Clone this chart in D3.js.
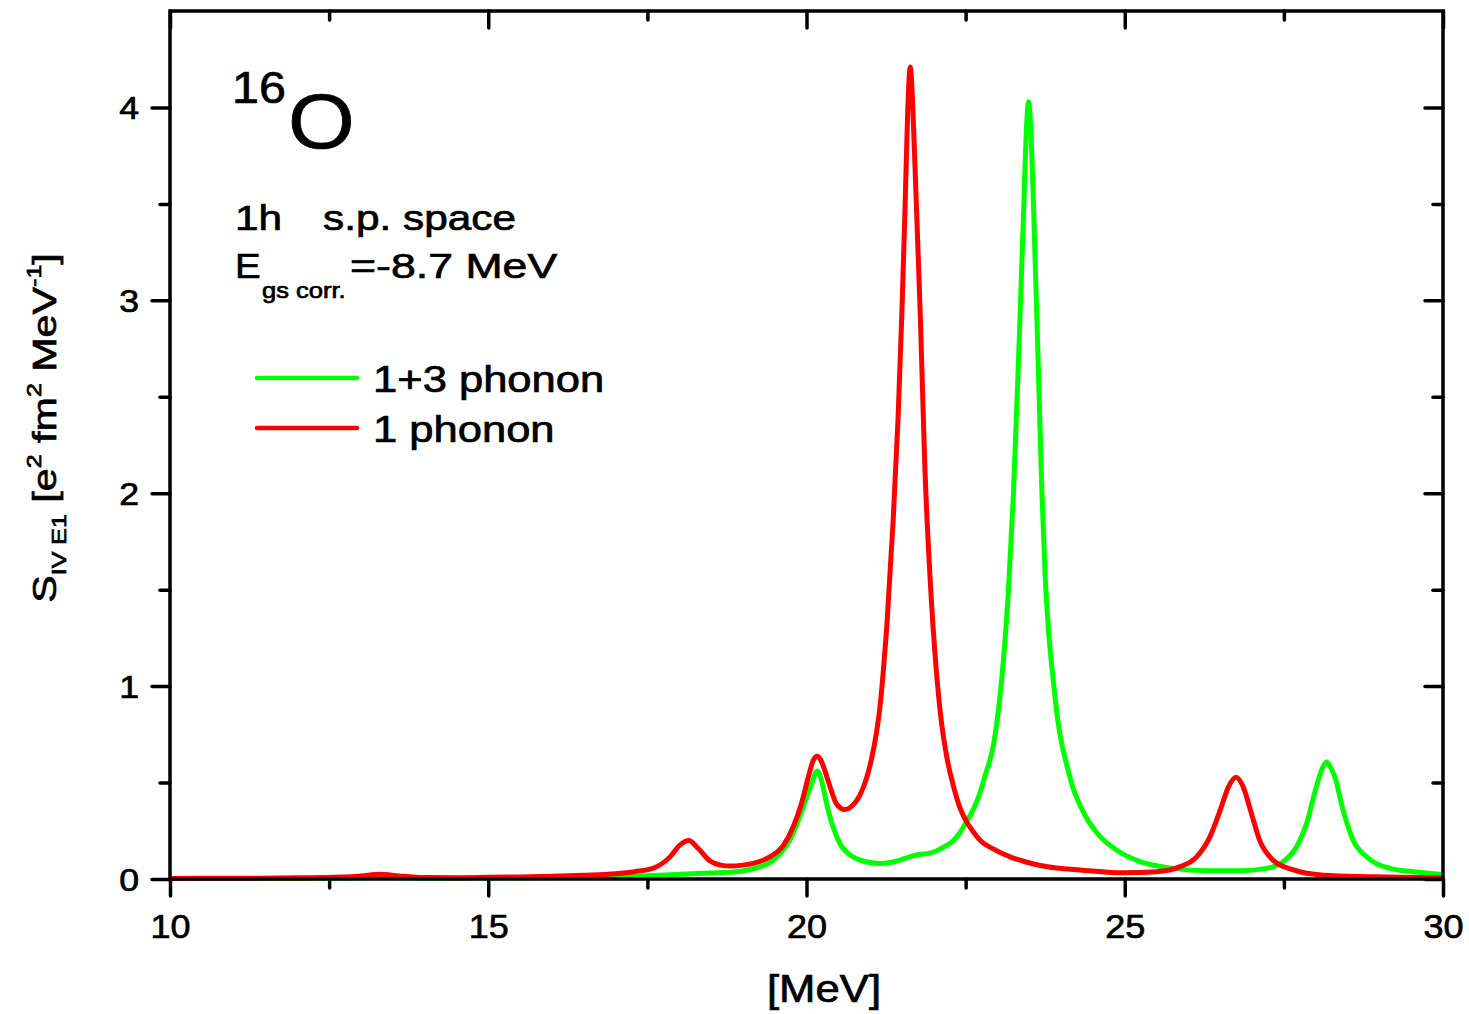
<!DOCTYPE html>
<html>
<head>
<meta charset="utf-8">
<script src="https://cdn.jsdelivr.net/npm/d3@7"></script>
<style>
  body { margin: 0; background: #fff; }
  text { font-family: "Liberation Sans", Arial, sans-serif; fill: #000; stroke: #000; stroke-width: 0.7px; }
</style>
</head>
<body>
<svg id="chart"></svg>
<script>
// Energies [MeV] and strengths
const energyOnePhonon = [10.0, 11.0, 12.0, 12.7, 13.0, 13.3, 13.6, 14.0, 14.5, 15.0,
  15.5, 16.0, 16.5, 17.0, 17.3, 17.6, 17.86, 18.01, 18.15, 18.30,
  18.48, 18.65, 18.80, 19.00, 19.16, 19.43, 19.64, 19.79, 19.92, 20.03,
  20.10, 20.16, 20.22, 20.30, 20.37, 20.47, 20.60, 20.73, 20.84, 20.95,
  21.02, 21.10, 21.15, 21.20, 21.26, 21.36, 21.44, 21.50, 21.55, 21.59, 21.63,
  21.67, 21.72, 21.79, 21.86, 21.94, 22.05, 22.10, 22.20, 22.31, 22.41,
  22.51, 22.62, 22.73, 22.94, 23.20, 23.41, 23.67, 23.93, 24.30, 24.98,
  25.50, 25.87, 26.13, 26.34, 26.50, 26.63, 26.75, 26.86, 26.99, 27.12,
  27.33, 27.65, 28.12, 28.90, 30.0];
const strengthOnePhonon = [0.003, 0.004, 0.006, 0.010, 0.016, 0.025, 0.016, 0.008, 0.007, 0.009,
  0.011, 0.014, 0.019, 0.027, 0.038, 0.057, 0.116, 0.176, 0.200, 0.158,
  0.095, 0.072, 0.067, 0.072, 0.081, 0.116, 0.176, 0.27, 0.39, 0.53,
  0.61, 0.637, 0.62, 0.55, 0.478, 0.39, 0.36, 0.383, 0.435, 0.53,
  0.62, 0.76, 0.88, 1.05, 1.30, 1.85, 2.40, 2.95, 3.50, 3.98, 4.21,
  4.00, 3.55, 2.90, 2.13, 1.57, 1.04, 0.87, 0.64, 0.48, 0.37,
  0.30, 0.245, 0.20, 0.155, 0.115, 0.092, 0.07, 0.057, 0.047, 0.032,
  0.038, 0.064, 0.115, 0.22, 0.357, 0.478, 0.527, 0.478, 0.34, 0.20,
  0.098, 0.047, 0.020, 0.012, 0.005];

const energyOneThreePhonon = [10.0, 12.0, 13.0, 13.3, 13.6, 14.0, 15.0, 16.0, 17.07, 17.6,
  18.12, 18.50, 18.90, 19.10, 19.27, 19.45, 19.58, 19.70, 19.79, 19.88,
  19.95, 20.02, 20.08, 20.17, 20.22, 20.26, 20.31, 20.37, 20.45, 20.53,
  20.63, 20.73, 20.90, 21.15, 21.32, 21.47, 21.62, 21.78, 21.92, 22.04,
  22.18, 22.31, 22.41, 22.52, 22.62, 22.72, 22.80, 22.94, 23.01, 23.09,
  23.17, 23.25, 23.33, 23.41, 23.45, 23.49, 23.53, 23.57, 23.64, 23.70,
  23.75, 23.80, 23.88, 23.95, 24.00, 24.09, 24.20, 24.30, 24.43, 24.56, 24.87, 25.24,
  25.76, 26.29, 26.81, 27.23, 27.49, 27.70, 27.86, 28.01, 28.10, 28.17,
  28.23, 28.30, 28.43, 28.59, 28.80, 29.17, 29.53, 30.0];
const strengthOneThreePhonon = [0.002, 0.003, 0.005, 0.012, 0.006, 0.004, 0.005, 0.008, 0.012, 0.018,
  0.026, 0.031, 0.038, 0.048, 0.064, 0.090, 0.13, 0.18, 0.236, 0.31,
  0.374, 0.44, 0.495, 0.56, 0.53, 0.478, 0.40, 0.32, 0.24, 0.18,
  0.14, 0.115, 0.092, 0.081, 0.086, 0.098, 0.115, 0.128, 0.133, 0.145,
  0.17, 0.20, 0.24, 0.30, 0.36, 0.44, 0.53, 0.70, 0.86, 1.12,
  1.48, 1.99, 2.68, 3.45, 3.85, 4.03, 3.85, 3.45, 2.68, 1.99,
  1.57, 1.30, 1.02, 0.82, 0.72, 0.59, 0.46, 0.38, 0.30, 0.24, 0.15, 0.09,
  0.055, 0.043, 0.043, 0.055, 0.09, 0.167, 0.29, 0.478, 0.57, 0.607,
  0.58, 0.53, 0.357, 0.20, 0.115, 0.055, 0.038, 0.024];

const xMajorTicks = [10, 15, 20, 25, 30];
const xMinorTicks = [12.5, 17.5, 22.5, 27.5];
const yMajorTicks = [0, 1, 2, 3, 4];
const yMinorTicks = [0.5, 1.5, 2.5, 3.5];

const seriesNames = ["1+3 phonon", "1 phonon"];
const seriesColors = ["#00ff00", "#ff0000"];

// Layout
const width = 1469, height = 1014;
const plot = { left: 170, right: 1443, top: 11, bottom: 879 };
const textStretch = 1.21; // the original lettering is wider than Arial

const svg = d3.select("#chart").attr("width", width).attr("height", height);

const x = d3.scaleLinear().domain([10, 30]).range([plot.left, plot.right]);
const y = d3.scaleLinear().domain([0, 4.5]).range([plot.bottom, plot.top]);

function styleTicks(g) {
  g.select(".domain").remove();
  g.selectAll(".tick line")
    .attr("stroke", "#000")
    .attr("stroke-width", 3.5)
    .attr("stroke-linecap", "round");
}

// Bottom axis (outward ticks with labels)
svg.append("g")
  .attr("transform", `translate(0,${plot.bottom})`)
  .call(d3.axisBottom(x).tickValues(xMajorTicks).tickSize(17).tickFormat(d3.format("d")))
  .call(styleTicks)
  .call(g => g.selectAll(".tick text")
    .attr("y", null).attr("dy", null)
    .attr("font-size", 34)
    .attr("transform", "translate(0,59) scale(1.06,1)"));
svg.append("g")
  .attr("transform", `translate(0,${plot.bottom})`)
  .call(d3.axisBottom(x).tickValues(xMinorTicks).tickSize(9).tickFormat(""))
  .call(styleTicks);

// Top axis (inward ticks)
svg.append("g")
  .attr("transform", `translate(0,${plot.top})`)
  .call(d3.axisBottom(x).tickValues(xMajorTicks).tickSize(17).tickFormat(""))
  .call(styleTicks);
svg.append("g")
  .attr("transform", `translate(0,${plot.top})`)
  .call(d3.axisBottom(x).tickValues(xMinorTicks).tickSize(9).tickFormat(""))
  .call(styleTicks);

// Left axis (outward ticks with labels)
svg.append("g")
  .attr("transform", `translate(${plot.left},0)`)
  .call(d3.axisLeft(y).tickValues(yMajorTicks).tickSize(18).tickFormat(d3.format("d")))
  .call(styleTicks)
  .call(g => g.selectAll(".tick text")
    .attr("x", null)
    .attr("dy", "0.36em")
    .attr("font-size", 31)
    .attr("transform", "translate(-31,0) scale(1.15,1)"));
svg.append("g")
  .attr("transform", `translate(${plot.left},0)`)
  .call(d3.axisLeft(y).tickValues(yMinorTicks).tickSize(10).tickFormat(""))
  .call(styleTicks);

// Right axis (inward ticks)
svg.append("g")
  .attr("transform", `translate(${plot.right},0)`)
  .call(d3.axisLeft(y).tickValues(yMajorTicks).tickSize(18).tickFormat(""))
  .call(styleTicks);
svg.append("g")
  .attr("transform", `translate(${plot.right},0)`)
  .call(d3.axisLeft(y).tickValues(yMinorTicks).tickSize(10).tickFormat(""))
  .call(styleTicks);

// Curves: green first, red on top
const series = [
  d3.zip(energyOneThreePhonon, strengthOneThreePhonon),
  d3.zip(energyOnePhonon, strengthOnePhonon)
];
const line = d3.line()
  .x(d => x(d[0]))
  .y(d => y(d[1]))
  .curve(d3.curveMonotoneX);

svg.append("g")
  .selectAll("path")
  .data(series)
  .join("path")
  .attr("d", line)
  .attr("fill", "none")
  .attr("stroke", (d, i) => seriesColors[i])
  .attr("stroke-width", 5)
  .attr("stroke-linejoin", "round");

// Frame
svg.append("rect")
  .attr("x", plot.left).attr("y", plot.top)
  .attr("width", plot.right - plot.left)
  .attr("height", plot.bottom - plot.top)
  .attr("fill", "none")
  .attr("stroke", "#000")
  .attr("stroke-width", 3.5);

// Text helper: wide lettering
function label(px, py, str, size, sx = textStretch, anchor = "start") {
  return svg.append("text")
    .attr("transform", `translate(${px},${py}) scale(${sx},1)`)
    .attr("font-size", size)
    .attr("text-anchor", anchor)
    .text(str);
}

// Nucleus
label(232, 103, "16", 44, 1.1);
label(288, 148, "O", 78, 1.1);

// Annotations
label(235, 230, "1h", 35);
label(323, 230, "s.p. space", 35);
label(235, 278, "E", 35, 1.1);
label(262, 298, "gs corr.", 22, 1.16);
label(350, 278, "=-8.7 MeV", 36, 1.24);

// Legend
const legend = svg.append("g");
seriesNames.forEach((name, i) => {
  const ly = 378 + i * 50;
  legend.append("line")
    .attr("x1", 257).attr("x2", 357)
    .attr("y1", ly).attr("y2", ly)
    .attr("stroke", seriesColors[i])
    .attr("stroke-width", 4.5)
    .attr("stroke-linecap", "round");
  label(373, ly + 14, name, 36);
});

// Axis titles
label(824, 1002, "[MeV]", 38, 1.15, "middle");

const yTitle = svg.append("text")
  .attr("transform", `translate(56,428) rotate(-90) scale(1.25,1)`)
  .attr("font-size", 33)
  .attr("text-anchor", "middle");
yTitle.append("tspan").text("S");
yTitle.append("tspan").attr("font-size", 20).attr("dy", 10).text("IV E1");
yTitle.append("tspan").attr("dy", -10).text(" [e");
yTitle.append("tspan").attr("font-size", 20).attr("dy", -15).text("2");
yTitle.append("tspan").attr("dy", 15).text(" fm");
yTitle.append("tspan").attr("font-size", 20).attr("dy", -15).text("2");
yTitle.append("tspan").attr("dy", 15).text(" MeV");
yTitle.append("tspan").attr("font-size", 20).attr("dy", -15).text("-1");
yTitle.append("tspan").attr("dy", 15).text("]");
</script>
</body>
</html>
